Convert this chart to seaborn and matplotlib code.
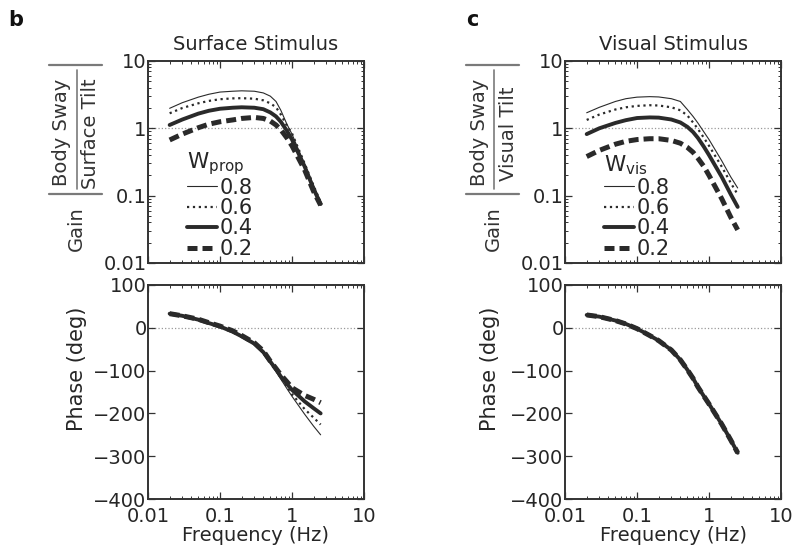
import numpy as np
import pandas as pd
import seaborn as sns
import matplotlib
matplotlib.use('Agg')
import matplotlib.pyplot as plt
from matplotlib.lines import Line2D
from matplotlib.ticker import LogLocator, FixedLocator, FuncFormatter, NullFormatter

# frequencies (Hz)
freq = [0.02, 0.03, 0.05, 0.07, 0.1, 0.15, 0.2, 0.3, 0.4, 0.5, 0.6, 0.7, 0.85, 1.0, 1.5, 2.0, 2.5]
weights = ['0.8', '0.6', '0.4', '0.2']

# b: surface stimulus, gain
gain_surf_08 = [1.98, 2.4, 2.9, 3.2, 3.45, 3.55, 3.6, 3.55, 3.35, 3.0, 2.5, 1.85, 1.15, 0.82, 0.29, 0.14, 0.08]
gain_surf_06 = [1.67, 2.0, 2.35, 2.55, 2.7, 2.78, 2.8, 2.75, 2.6, 2.35, 2.05, 1.6, 1.1, 0.84, 0.3, 0.14, 0.08]
gain_surf_04 = [1.12, 1.35, 1.65, 1.82, 1.95, 2.02, 2.05, 2.02, 1.92, 1.72, 1.5, 1.25, 0.92, 0.68, 0.27, 0.125, 0.075]
gain_surf_02 = [0.67, 0.82, 1.02, 1.15, 1.25, 1.33, 1.4, 1.45, 1.4, 1.28, 1.12, 0.95, 0.72, 0.55, 0.24, 0.115, 0.072]

# b: surface stimulus, phase (deg)
phase_surf_08 = [34, 28, 19, 11, 3, -9, -20, -38, -60, -82, -102, -120, -142, -160, -202, -230, -250]
phase_surf_06 = [34, 28, 19, 11, 3, -9, -20, -38, -59, -80, -99, -117, -137, -155, -190, -210, -226]
phase_surf_04 = [33, 28, 19, 11, 3, -9, -20, -37, -57, -79, -97, -114, -131, -145, -172, -188, -200]
phase_surf_02 = [33, 28, 20, 12, 4, -7, -18, -35, -54, -78, -95, -110, -126, -140, -158, -167, -175]

# c: visual stimulus, gain
gain_vis_08 = [1.70, 2.05, 2.5, 2.75, 2.9, 2.95, 2.92, 2.75, 2.5, 1.9, 1.5, 1.2, 0.88, 0.68, 0.33, 0.19, 0.13]
gain_vis_06 = [1.33, 1.6, 1.9, 2.05, 2.15, 2.2, 2.18, 2.05, 1.85, 1.55, 1.22, 0.98, 0.72, 0.55, 0.27, 0.155, 0.104]
gain_vis_04 = [0.82, 1.0, 1.2, 1.32, 1.42, 1.45, 1.44, 1.35, 1.22, 1.05, 0.88, 0.72, 0.53, 0.4, 0.19, 0.105, 0.068]
gain_vis_02 = [0.38, 0.47, 0.58, 0.64, 0.68, 0.70, 0.70, 0.66, 0.6, 0.52, 0.44, 0.36, 0.27, 0.2, 0.09, 0.048, 0.031]

# c: visual stimulus, phase (deg) - the four curves overlap
phase_vis = [30, 26, 17, 9, -2, -18, -30, -52, -75, -98, -118, -138, -160, -178, -225, -262, -292]

gain_surf = [gain_surf_08, gain_surf_06, gain_surf_04, gain_surf_02]
phase_surf = [phase_surf_08, phase_surf_06, phase_surf_04, phase_surf_02]
gain_vis = [gain_vis_08, gain_vis_06, gain_vis_04, gain_vis_02]
phase_vis_all = [phase_vis, phase_vis, phase_vis, phase_vis]

sns.set_style("ticks")
plt.rcParams['font.family'] = ['DejaVu Sans']
plt.rcParams['mathtext.fontset'] = 'dejavusans'

dark = '#2a2a2a'
txt = '#262626'
line_styles = [
    dict(lw=0.8, ls='-'),
    dict(lw=1.6, ls=':'),
    dict(lw=2.8, ls='-'),
    dict(lw=3.6, ls=(0, (2, 1))),
]

FW, FH = 793, 552
fig = plt.figure(figsize=(FW / 100, FH / 100), dpi=100)

W = 0.2724
lefts = [0.1866, 0.7125]
ax_g_b = fig.add_axes([lefts[0], 0.5236, W, 0.366])
ax_p_b = fig.add_axes([lefts[0], 0.096, W, 0.3877])
ax_g_c = fig.add_axes([lefts[1], 0.5236, W, 0.366])
ax_p_c = fig.add_axes([lefts[1], 0.096, W, 0.3877])


def draw(ax, curves):
    for vals, wt, st in zip(curves, weights, line_styles):
        sns.lineplot(x=freq, y=vals, ax=ax, color=dark, label=wt, legend=False, **st)


def style_axes(ax, log_y):
    ax.set_xscale('log')
    ax.set_xlim(0.01, 10)
    ax.xaxis.set_major_locator(FixedLocator([0.01, 0.1, 1, 10]))
    ax.xaxis.set_minor_locator(LogLocator(base=10, subs=np.arange(2, 10)))
    ax.xaxis.set_major_formatter(FuncFormatter(lambda v, p: '%g' % v))
    ax.xaxis.set_minor_formatter(NullFormatter())
    if log_y:
        ax.set_yscale('log')
        ax.set_ylim(0.01, 10)
        ax.yaxis.set_major_locator(FixedLocator([0.01, 0.1, 1, 10]))
        ax.yaxis.set_minor_locator(LogLocator(base=10, subs=np.arange(2, 10)))
        ax.yaxis.set_major_formatter(FuncFormatter(lambda v, p: '%g' % v))
        ax.yaxis.set_minor_formatter(NullFormatter())
    else:
        ax.set_ylim(-400, 100)
        ax.set_yticks(np.arange(-400, 101, 100))
    ax.tick_params(which='both', direction='in', top=True, right=True,
                   color='#333333', labelcolor=txt, labelsize=14)
    ax.tick_params(axis='y', pad=1)
    ax.tick_params(axis='x', pad=6)
    ax.tick_params(which='major', length=5, width=0.9)
    ax.tick_params(which='minor', length=2.5, width=0.7)
    for sp in ax.spines.values():
        sp.set_linewidth(1.4)
        sp.set_color('#333333')
    ax.grid(False)


def gain_label(ax, stim):
    # |Body Sway / xxx Tilt| written sideways, left of the gain axis
    x0 = ax.get_position().x0 * FW
    fx = lambda dx: (x0 + dx) / FW
    fy = lambda y: 1 - y / FH
    kw = dict(rotation=90, ha='center', va='center', fontsize=14, color='#333333')
    fig.text(fx(-86), fy(132), 'Body Sway', **kw)
    fig.text(fx(-57), fy(134), stim + ' Tilt', **kw)
    fig.text(fx(-72), fy(229), 'Gain', **kw)
    bar = dict(color='#7a7a7a', lw=1.6, transform=fig.transFigure)
    fig.add_artist(Line2D([fx(-99), fx(-46)], [fy(65), fy(65)], **bar))
    fig.add_artist(Line2D([fx(-99), fx(-46)], [fy(194), fy(194)], **bar))
    fig.add_artist(Line2D([fx(-71), fx(-71)], [fy(70), fy(189)], color='#7a7a7a', lw=1.2,
                          transform=fig.transFigure))


# gain panels
for ax, curves, sub, stim, title in [
    (ax_g_b, gain_surf, 'prop', 'Surface', 'Surface Stimulus'),
    (ax_g_c, gain_vis, 'vis', 'Visual', 'Visual Stimulus'),
]:
    ax.axhline(1, color='#999999', ls=':', lw=0.9, zorder=0)
    draw(ax, curves)
    style_axes(ax, True)
    ax.tick_params(labelbottom=False)
    ax.set_xlabel('')
    ax.set_ylabel('')
    ax.set_title(title, fontsize=14, color=txt, pad=8)
    gain_label(ax, stim)
    leg = ax.legend(title=r'W$_{\mathrm{%s}}$' % sub, loc='lower left',
                    bbox_to_anchor=(0.16, 0.0), frameon=False, fontsize=15,
                    title_fontsize=15.5, handlelength=1.45, handletextpad=0.15,
                    labelspacing=0.02, borderpad=0.1, borderaxespad=0.1,
                    alignment='left')
    for t in leg.get_texts():
        t.set_color(txt)
    leg.get_title().set_color(txt)

# phase panels
for ax, curves, lab_x in [(ax_p_b, phase_surf, -0.28), (ax_p_c, phase_vis_all, -0.30)]:
    ax.axhline(0, color='#999999', ls=':', lw=0.9, zorder=0)
    draw(ax, curves)
    style_axes(ax, False)
    ax.set_xlabel('Frequency (Hz)', fontsize=14, color=txt, labelpad=0)
    ax.set_ylabel('Phase (deg)', fontsize=15, color=txt)
    ax.yaxis.set_label_coords(lab_x, 0.61)

fig.text(0.010, 0.964, 'b', fontsize=15, fontweight='bold', va='center', color='#111111')
fig.text(0.588, 0.964, 'c', fontsize=15, fontweight='bold', va='center', color='#111111')

fig.savefig('out.png', dpi=100)
